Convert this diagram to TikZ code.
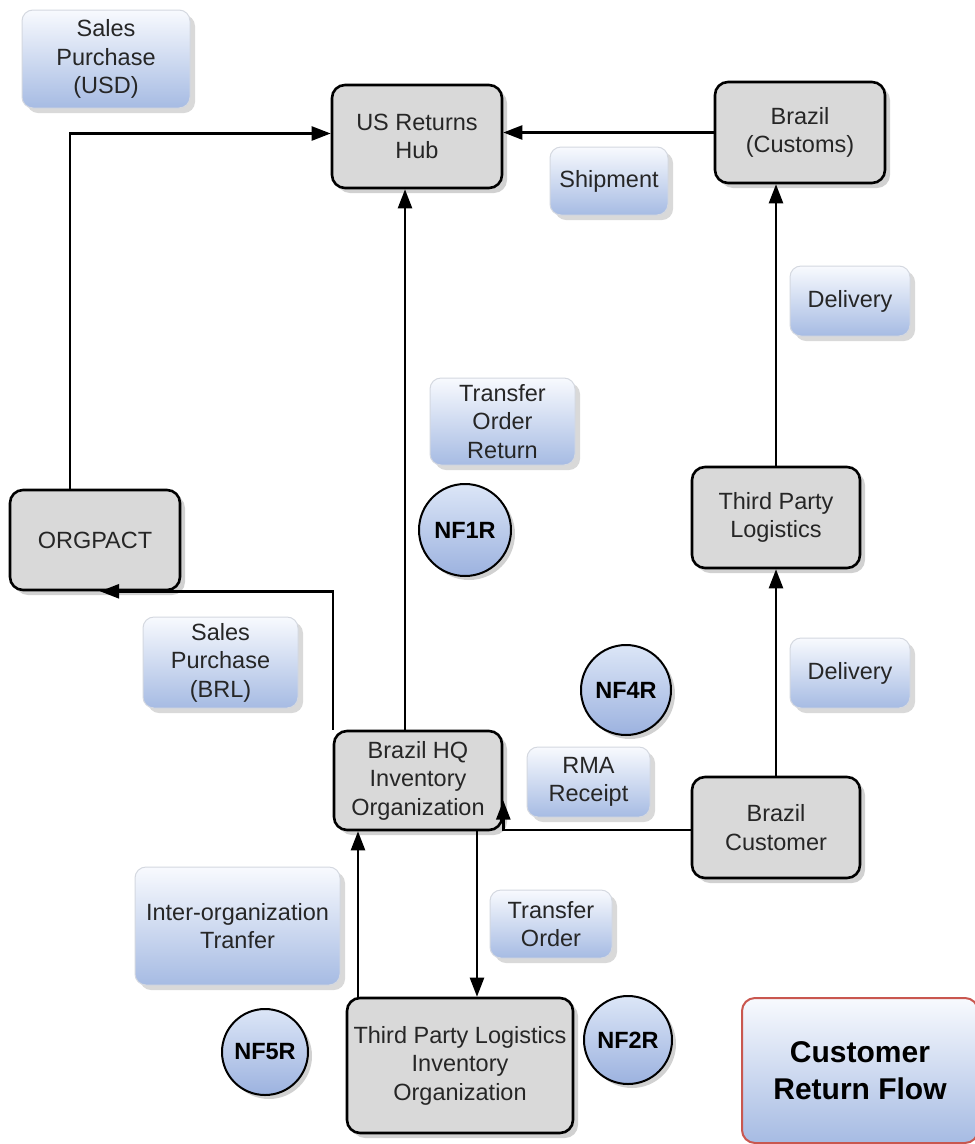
\documentclass[tikz,border=0pt]{standalone}
\usepackage{fontspec}
\setmainfont{Liberation Sans}
\usetikzlibrary{arrows.meta,shadows}
\definecolor{gfill}{HTML}{D9D9D9}
\definecolor{lbltop}{HTML}{F8FAFE}
\definecolor{lblbot}{HTML}{A6BBE3}
\definecolor{lblborder}{HTML}{D4D8E0}
\definecolor{nftop}{HTML}{DCE6F7}
\definecolor{nfbot}{HTML}{9CB2DF}
\definecolor{txt}{HTML}{262626}
\definecolor{redb}{HTML}{C9574F}
\tikzset{
  base/.style={align=center, inner sep=2pt, text=txt, font=\fontsize{23.5}{28.5}\selectfont},
  gbox/.style={base, draw=black, line width=2.6pt, fill=gfill, rounded corners=13pt,
    drop shadow={shadow xshift=5pt, shadow yshift=-5pt, fill=black, opacity=0.18}},
  lbl/.style={base, draw=lblborder, line width=1pt, top color=lbltop, bottom color=lblbot, rounded corners=11pt,
    drop shadow={shadow xshift=5pt, shadow yshift=-5pt, fill=black, opacity=0.15}},
  nf/.style={circle, draw=black, line width=2pt, top color=nftop, bottom color=nfbot, inner sep=0pt,
    text=black, font=\bfseries\fontsize{23.5}{28}\selectfont,
    drop shadow={shadow xshift=4pt, shadow yshift=-4pt, fill=black, opacity=0.18}},
  legend/.style={align=center, draw=redb, line width=2pt, top color=lbltop, bottom color=lblbot, rounded corners=13pt,
    text=black, font=\bfseries\fontsize{30}{37}\selectfont},
  arr/.style={line width=2.4pt, draw=black, -{Triangle[length=19pt,width=14pt]}},
}
\begin{document}
\begin{tikzpicture}[x=1pt,y=-1pt]
\useasboundingbox[fill=white] (0,0) rectangle (975,1144);
% labels
\node[lbl, minimum width=168pt, minimum height=98pt] (susd) at (106,59) {Sales\\Purchase\\(USD)};
\node[lbl, minimum width=118pt, minimum height=68pt] (ship) at (609,181) {Shipment};
\node[lbl, minimum width=120pt, minimum height=70pt] (del1) at (850,301) {Delivery};
\node[lbl, minimum width=145pt, minimum height=87pt] (tor) at (502.5,421.5) {Transfer\\Order\\Return};
\node[lbl, minimum width=155pt, minimum height=91pt] (sbrl) at (220.5,662.5) {Sales\\Purchase\\(BRL)};
\node[lbl, minimum width=120pt, minimum height=70pt] (del2) at (850,673) {Delivery};
\node[lbl, minimum width=123pt, minimum height=70pt] (rma) at (588.5,782) {RMA\\Receipt};
\node[lbl, minimum width=205pt, minimum height=118pt] (inter) at (237.5,926) {Inter-organization\\Tranfer};
\node[lbl, minimum width=122pt, minimum height=68pt] (to) at (551,924) {Transfer\\Order};
% circles
\node[nf, minimum size=92pt] (nf1) at (465,530) {NF1R};
\node[nf, minimum size=90pt] (nf4) at (626,690) {NF4R};
\node[nf, minimum size=86pt] (nf5) at (265,1052) {NF5R};
\node[nf, minimum size=88pt] (nf2) at (628,1040) {NF2R};
% gray boxes
\node[gbox, minimum width=170pt, minimum height=103pt] (hub) at (417,136.5) {US Returns\\Hub};
\node[gbox, minimum width=170pt, minimum height=101pt] (customs) at (800,132.5) {Brazil\\(Customs)};
\node[gbox, minimum width=168pt, minimum height=101pt] (tpl) at (776,517.5) {Third Party\\Logistics};
\node[gbox, minimum width=170pt, minimum height=100pt] (org) at (95,540) {ORGPACT};
\node[gbox, minimum width=168pt, minimum height=99pt] (hq) at (418,780.5) {Brazil HQ\\Inventory\\Organization};
\node[gbox, minimum width=168pt, minimum height=101pt] (cust) at (776,827.5) {Brazil\\Customer};
\node[gbox, minimum width=226pt, minimum height=135pt] (tplinv) at (460,1065.5) {Third Party Logistics\\Inventory\\Organization};
\node[legend, minimum width=236pt, minimum height=145pt] (crf) at (860,1070.5) {Customer\\Return Flow};
% connectors
\draw[arr] ([xshift=-25pt]org.north) |- ([yshift=3pt]hub.west);
\draw[arr] (customs.west) -- (customs.west -| hub.east);
\draw[arr] ([xshift=-13pt]hq.north) -- ([xshift=-13pt]hq.north |- hub.south);
\draw[arr] (tpl.north) -- (tpl.north |- customs.south);
\draw[arr] (cust.north) -- (tpl.south);
\draw[arr] (hq.north west) |- ([xshift=5pt]org.south);
\draw[arr] ([yshift=-2.5pt]cust.west) -| ([yshift=-20pt]hq.east);
\draw[arr] ([xshift=59pt]hq.south) -- ([xshift=59pt]hq.south |- tplinv.north);
\draw[arr] ([xshift=-102pt]tplinv.north) -- ([xshift=-102pt]tplinv.north |- hq.south);
\end{tikzpicture}
\end{document}
